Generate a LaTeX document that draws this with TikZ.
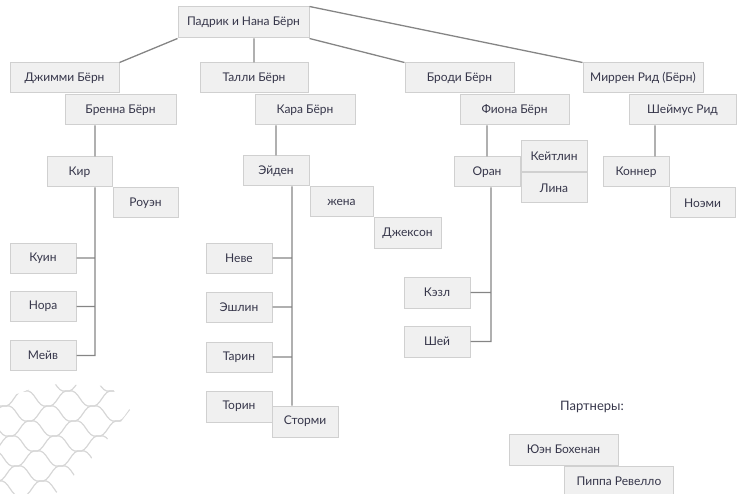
\documentclass[tikz,border=0pt]{standalone}
\usepackage{fontspec}
\setmainfont{Lato}
\usepackage{tikz}
\usetikzlibrary{positioning}

\definecolor{boxfill}{HTML}{F0F0F0}
\definecolor{boxline}{HTML}{D0D0D0}
\definecolor{linkgray}{HTML}{858585}
\definecolor{inkgray}{HTML}{36364A}
\definecolor{netgray}{HTML}{D6D6D6}

\begin{document}
\begin{tikzpicture}[
            x=1pt,y=-1pt,
            person/.style={draw=boxline,fill=boxfill,line width=1pt,minimum width=66pt,minimum height=30pt,
                           inner sep=0pt,text=inkgray,font=\fontsize{12}{14}\selectfont},
            wide/.style={person,minimum width=109pt},
            link/.style={draw=linkgray,line width=1.3pt},
            net/.style={draw=netgray,line width=1.2pt}
          ]
          \useasboundingbox (0,0) rectangle (738,494);

          %net in the corner
          \begin{scope}
            \clip (0,400) -- (45,384) -- (110,386) -- (130,410) -- (95,455) -- (55,494) -- (0,494) -- cycle;
            \foreach \j in {0,...,8} {
              \foreach \i in {-1,...,4} {
                \pgfmathsetmacro{\px}{\i*44+mod(\j,2)*22+\j*3}
                \pgfmathsetmacro{\py}{376+\j*15}
                \path[net] (\px,\py) to[out=15,in=195] (\px+22,\py+15)
                           (\px,\py) to[out=165,in=-15] (\px-22,\py+15);
              }
            }
          \end{scope}

          % first generation
          \node[person,minimum width=131pt,minimum height=31pt] (pn) at (243.5,22.5) {Падрик и Нана Бёрн};

          % children and their partners
          \node[wide] (dzh) at (64.5,78) {Джимми Бёрн};
          \node[wide,minimum width=111pt] (bre) at (120.5,110) {Бренна Бёрн};
          \node[wide,minimum width=108pt] (tal) at (254,78) {Талли Бёрн};
          \node[wide,minimum width=100pt] (kara) at (305,110) {Кара Бёрн};
          \node[wide] (bro) at (459.5,78) {Броди Бёрн};
          \node[wide] (fio) at (514.5,110) {Фиона Бёрн};
          \node[wide,minimum width=120pt] (mir) at (643,78) {Миррен Рид (Бёрн)};
          \node[wide,minimum width=107pt] (she) at (682.5,110) {Шеймус Рид};

          % grandchildren
          \node[person,minimum width=65pt] (kir) at (79.5,172) {Кир};
          \node[person,minimum width=65pt,anchor=north west] (rou) at (kir.south east) {Роуэн};
          \node[person] (eid) at (276,171) {Эйден};
          \node[person,minimum width=63pt,anchor=north west] (zhe) at (eid.south east) {жена};
          \node[person,minimum width=67pt,anchor=north west] (dzhk) at (zhe.south east) {Джексон};
          \node[person] (oran) at (487,172) {Оран};
          \node[person,minimum height=31pt] (keit) at (554,156.5) {Кейтлин};
          \node[person,below=0pt of keit] (lina) {Лина};
          \node[person] (kon) at (636,172) {Коннер};
          \node[person,minimum width=65pt,anchor=north west] (noe) at (kon.south east) {Ноэми};

          % great-grandchildren
          \node[person] (kui) at (43,258) {Куин};
          \node[person] (nora) at (43,306.5) {Нора};
          \node[person] (meiv) at (43,355.5) {Мейв};
          \node[person] (neve) at (239,258) {Неве};
          \node[person] (eshl) at (239,307) {Эшлин};
          \node[person] (tari) at (239,357) {Тарин};
          \node[person,minimum height=31pt] (tori) at (239,406.5) {Торин};
          \node[person,minimum height=31pt] (sto) at (305,421.5) {Сторми};
          \node[person,minimum height=31pt] (kezl) at (437,292.5) {Кэзл};
          \node[person,minimum height=31pt] (shei) at (437,341.5) {Шей};

          % partners
          \node[text=inkgray,font=\fontsize{13}{15}\selectfont] (part) at (592,407) {Партнеры:};
          \node[wide,minimum height=31pt] (yue) at (563.5,449.5) {Юэн Бохенан};
          \node[wide,anchor=north west] (pip) at (yue.south east -| 564,0) {Пиппа Ревелло};

          %trunks
          \coordinate (kirbus) at (95,0);
          \coordinate (eidbus) at (292,0);
          \coordinate (oranbus) at (491,0);
          \coordinate (konbus) at (655,0);

          \path[link]
          (pn.south west) -- (dzh.north east)
          (tal.north |- pn.south) -- (tal.north)
          (pn.south east) -- (bro.north west)
          (pn.north east) -- (mir.north west)
          (kirbus |- bre.south) -- (kirbus |- kir.north)
          (kirbus |- kir.south) -- (kirbus |- meiv.east) -- (meiv.east)
          (kui.east) -- (kirbus |- kui.east)
          (nora.east) -- (kirbus |- nora.east)
          (eid.north |- kara.south) -- (eid.north)
          (eidbus |- eid.south) -- (eidbus |- sto.north)
          (neve.east) -- (eidbus |- neve.east)
          (eshl.east) -- (eidbus |- eshl.east)
          (tari.east) -- (eidbus |- tari.east)
          (oran.north |- fio.south) -- (oran.north)
          (oranbus |- oran.south) -- (oranbus |- shei.east) -- (shei.east)
          (kezl.east) -- (oranbus |- kezl.east)
          (konbus |- she.south) -- (konbus |- kon.north)
          ;
\end{tikzpicture}
\end{document}
